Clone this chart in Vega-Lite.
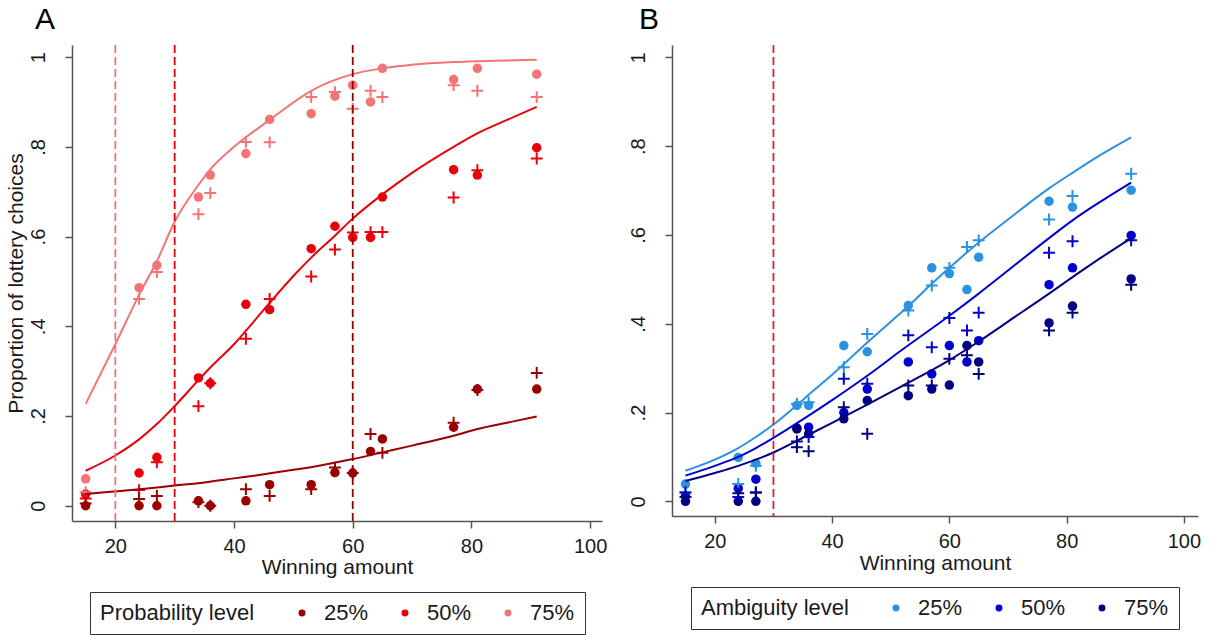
{
"$schema": "https://vega.github.io/schema/vega-lite/v6.json",
"background": "white",
"padding": {"left": 5, "top": 5, "right": 5, "bottom": 0},
"spacing": 21,
"config": {
  "font": "Liberation Sans",
  "view": {"stroke": null},
  "axis": {"grid": false, "domainColor": "#555555", "domainWidth": 1.5, "tickColor": "#555555", "tickWidth": 1.5, "tickSize": 7, "labelColor": "#1a1a1a", "labelFont": "Liberation Sans", "labelFontSize": 20, "titleFont": "Liberation Sans", "titleFontSize": 21, "titleFontWeight": "normal", "titleColor": "#1a1a1a"},
  "legend": {"labelFont": "Liberation Sans", "titleFont": "Liberation Sans", "labelFontSize": 22, "titleFontSize": 22, "titleFontWeight": "normal", "labelColor": "#1a1a1a", "titleColor": "#1a1a1a"},
  "title": {"font": "Liberation Sans", "fontSize": 30, "fontWeight": "normal", "color": "#000000"}
},
"datasets": {
  "A_rules": [{"x": 20, "level": "75%"}, {"x": 30, "level": "50%"}, {"x": 60, "level": "25%"}],
  "B_rules": [{"x": 30}],
  "A_lines": [
    {"level": "75%", "x": 15, "y": 0.227}, {"level": "75%", "x": 20, "y": 0.36}, {"level": "75%", "x": 24, "y": 0.47}, {"level": "75%", "x": 27, "y": 0.545}, {"level": "75%", "x": 30, "y": 0.633}, {"level": "75%", "x": 34, "y": 0.715}, {"level": "75%", "x": 36, "y": 0.75}, {"level": "75%", "x": 40, "y": 0.8}, {"level": "75%", "x": 46, "y": 0.86}, {"level": "75%", "x": 53, "y": 0.925}, {"level": "75%", "x": 60, "y": 0.962}, {"level": "75%", "x": 65, "y": 0.975}, {"level": "75%", "x": 70, "y": 0.983}, {"level": "75%", "x": 77, "y": 0.989}, {"level": "75%", "x": 84, "y": 0.992}, {"level": "75%", "x": 91, "y": 0.994},
    {"level": "50%", "x": 15, "y": 0.078}, {"level": "50%", "x": 20, "y": 0.112}, {"level": "50%", "x": 24, "y": 0.148}, {"level": "50%", "x": 27, "y": 0.182}, {"level": "50%", "x": 30, "y": 0.222}, {"level": "50%", "x": 34, "y": 0.28}, {"level": "50%", "x": 36, "y": 0.308}, {"level": "50%", "x": 40, "y": 0.36}, {"level": "50%", "x": 42, "y": 0.39}, {"level": "50%", "x": 46, "y": 0.452}, {"level": "50%", "x": 50, "y": 0.512}, {"level": "50%", "x": 53, "y": 0.553}, {"level": "50%", "x": 57, "y": 0.602}, {"level": "50%", "x": 60, "y": 0.64}, {"level": "50%", "x": 65, "y": 0.694}, {"level": "50%", "x": 70, "y": 0.742}, {"level": "50%", "x": 77, "y": 0.8}, {"level": "50%", "x": 81, "y": 0.83}, {"level": "50%", "x": 86, "y": 0.86}, {"level": "50%", "x": 91, "y": 0.889},
    {"level": "25%", "x": 15, "y": 0.026}, {"level": "25%", "x": 20, "y": 0.032}, {"level": "25%", "x": 25, "y": 0.038}, {"level": "25%", "x": 30, "y": 0.045}, {"level": "25%", "x": 35, "y": 0.052}, {"level": "25%", "x": 40, "y": 0.061}, {"level": "25%", "x": 45, "y": 0.07}, {"level": "25%", "x": 50, "y": 0.08}, {"level": "25%", "x": 55, "y": 0.091}, {"level": "25%", "x": 60, "y": 0.104}, {"level": "25%", "x": 65, "y": 0.119}, {"level": "25%", "x": 70, "y": 0.134}, {"level": "25%", "x": 77, "y": 0.156}, {"level": "25%", "x": 81, "y": 0.171}, {"level": "25%", "x": 86, "y": 0.185}, {"level": "25%", "x": 91, "y": 0.199}
  ],
  "A_pts": [
    {"level": "75%", "x": 15, "y": 0.06, "kind": "o"}, {"level": "75%", "x": 15, "y": 0.03, "kind": "p"},
    {"level": "75%", "x": 24, "y": 0.486, "kind": "o"}, {"level": "75%", "x": 24, "y": 0.461, "kind": "p"},
    {"level": "75%", "x": 27, "y": 0.536, "kind": "o"}, {"level": "75%", "x": 27, "y": 0.521, "kind": "p"},
    {"level": "75%", "x": 34, "y": 0.688, "kind": "o"}, {"level": "75%", "x": 34, "y": 0.65, "kind": "p"},
    {"level": "75%", "x": 36, "y": 0.737, "kind": "o"}, {"level": "75%", "x": 36, "y": 0.697, "kind": "p"},
    {"level": "75%", "x": 42, "y": 0.785, "kind": "o"}, {"level": "75%", "x": 42, "y": 0.811, "kind": "p"},
    {"level": "75%", "x": 46, "y": 0.861, "kind": "o"}, {"level": "75%", "x": 46, "y": 0.81, "kind": "p"},
    {"level": "75%", "x": 53, "y": 0.874, "kind": "o"}, {"level": "75%", "x": 53, "y": 0.911, "kind": "p"},
    {"level": "75%", "x": 57, "y": 0.913, "kind": "o"}, {"level": "75%", "x": 57, "y": 0.922, "kind": "p"},
    {"level": "75%", "x": 60, "y": 0.9375, "kind": "o"}, {"level": "75%", "x": 60, "y": 0.885, "kind": "p"},
    {"level": "75%", "x": 63, "y": 0.9, "kind": "o"}, {"level": "75%", "x": 63, "y": 0.925, "kind": "p"},
    {"level": "75%", "x": 65, "y": 0.975, "kind": "o"}, {"level": "75%", "x": 65, "y": 0.911, "kind": "p"},
    {"level": "75%", "x": 77, "y": 0.95, "kind": "o"}, {"level": "75%", "x": 77, "y": 0.9375, "kind": "p"},
    {"level": "75%", "x": 81, "y": 0.975, "kind": "o"}, {"level": "75%", "x": 81, "y": 0.925, "kind": "p"},
    {"level": "75%", "x": 91, "y": 0.962, "kind": "o"}, {"level": "75%", "x": 91, "y": 0.911, "kind": "p"},
    {"level": "50%", "x": 15, "y": 0.026, "kind": "o"}, {"level": "50%", "x": 15, "y": 0.016, "kind": "p"},
    {"level": "50%", "x": 24, "y": 0.073, "kind": "o"}, {"level": "50%", "x": 24, "y": 0.035, "kind": "p"},
    {"level": "50%", "x": 27, "y": 0.108, "kind": "o"}, {"level": "50%", "x": 27, "y": 0.097, "kind": "p"},
    {"level": "50%", "x": 34, "y": 0.285, "kind": "o"}, {"level": "50%", "x": 34, "y": 0.222, "kind": "p"},
    {"level": "50%", "x": 36, "y": 0.273, "kind": "o"}, {"level": "50%", "x": 36, "y": 0.273, "kind": "p"},
    {"level": "50%", "x": 42, "y": 0.449, "kind": "o"}, {"level": "50%", "x": 42, "y": 0.372, "kind": "p"},
    {"level": "50%", "x": 46, "y": 0.437, "kind": "o"}, {"level": "50%", "x": 46, "y": 0.461, "kind": "p"},
    {"level": "50%", "x": 53, "y": 0.573, "kind": "o"}, {"level": "50%", "x": 53, "y": 0.511, "kind": "p"},
    {"level": "50%", "x": 57, "y": 0.623, "kind": "o"}, {"level": "50%", "x": 57, "y": 0.571, "kind": "p"},
    {"level": "50%", "x": 60, "y": 0.598, "kind": "o"}, {"level": "50%", "x": 60, "y": 0.609, "kind": "p"},
    {"level": "50%", "x": 63, "y": 0.598, "kind": "o"}, {"level": "50%", "x": 63, "y": 0.61, "kind": "p"},
    {"level": "50%", "x": 65, "y": 0.688, "kind": "o"}, {"level": "50%", "x": 65, "y": 0.61, "kind": "p"},
    {"level": "50%", "x": 77, "y": 0.749, "kind": "o"}, {"level": "50%", "x": 77, "y": 0.687, "kind": "p"},
    {"level": "50%", "x": 81, "y": 0.737, "kind": "o"}, {"level": "50%", "x": 81, "y": 0.748, "kind": "p"},
    {"level": "50%", "x": 91, "y": 0.798, "kind": "o"}, {"level": "50%", "x": 91, "y": 0.774, "kind": "p"},
    {"level": "25%", "x": 15, "y": 0.0, "kind": "o"}, {"level": "25%", "x": 15, "y": 0.005, "kind": "p"},
    {"level": "25%", "x": 24, "y": 0.0, "kind": "o"}, {"level": "25%", "x": 24, "y": 0.015, "kind": "p"},
    {"level": "25%", "x": 27, "y": 0.0, "kind": "o"}, {"level": "25%", "x": 27, "y": 0.022, "kind": "p"},
    {"level": "25%", "x": 34, "y": 0.011, "kind": "o"}, {"level": "25%", "x": 34, "y": 0.008, "kind": "p"},
    {"level": "25%", "x": 36, "y": 0.0, "kind": "o"}, {"level": "25%", "x": 36, "y": 0.0, "kind": "p"},
    {"level": "25%", "x": 42, "y": 0.011, "kind": "o"}, {"level": "25%", "x": 42, "y": 0.037, "kind": "p"},
    {"level": "25%", "x": 46, "y": 0.047, "kind": "o"}, {"level": "25%", "x": 46, "y": 0.022, "kind": "p"},
    {"level": "25%", "x": 53, "y": 0.047, "kind": "o"}, {"level": "25%", "x": 53, "y": 0.037, "kind": "p"},
    {"level": "25%", "x": 57, "y": 0.074, "kind": "o"}, {"level": "25%", "x": 57, "y": 0.085, "kind": "p"},
    {"level": "25%", "x": 60, "y": 0.073, "kind": "o"}, {"level": "25%", "x": 60, "y": 0.073, "kind": "p"},
    {"level": "25%", "x": 63, "y": 0.121, "kind": "o"}, {"level": "25%", "x": 63, "y": 0.16, "kind": "p"},
    {"level": "25%", "x": 65, "y": 0.149, "kind": "o"}, {"level": "25%", "x": 65, "y": 0.118, "kind": "p"},
    {"level": "25%", "x": 77, "y": 0.175, "kind": "o"}, {"level": "25%", "x": 77, "y": 0.185, "kind": "p"},
    {"level": "25%", "x": 81, "y": 0.26, "kind": "o"}, {"level": "25%", "x": 81, "y": 0.258, "kind": "p"},
    {"level": "25%", "x": 91, "y": 0.26, "kind": "o"}, {"level": "25%", "x": 91, "y": 0.296, "kind": "p"}
  ],
  "B_lines": [
    {"level": "25%", "x": 15, "y": 0.069}, {"level": "25%", "x": 20, "y": 0.094}, {"level": "25%", "x": 24, "y": 0.12}, {"level": "25%", "x": 27, "y": 0.145}, {"level": "25%", "x": 30, "y": 0.173}, {"level": "25%", "x": 34, "y": 0.217}, {"level": "25%", "x": 36, "y": 0.24}, {"level": "25%", "x": 40, "y": 0.285}, {"level": "25%", "x": 46, "y": 0.358}, {"level": "25%", "x": 53, "y": 0.44}, {"level": "25%", "x": 57, "y": 0.49}, {"level": "25%", "x": 60, "y": 0.526}, {"level": "25%", "x": 65, "y": 0.583}, {"level": "25%", "x": 70, "y": 0.635}, {"level": "25%", "x": 77, "y": 0.705}, {"level": "25%", "x": 81, "y": 0.74}, {"level": "25%", "x": 86, "y": 0.782}, {"level": "25%", "x": 91, "y": 0.82},
    {"level": "50%", "x": 15, "y": 0.058}, {"level": "50%", "x": 20, "y": 0.08}, {"level": "50%", "x": 24, "y": 0.1}, {"level": "50%", "x": 27, "y": 0.12}, {"level": "50%", "x": 30, "y": 0.143}, {"level": "50%", "x": 36, "y": 0.193}, {"level": "50%", "x": 40, "y": 0.228}, {"level": "50%", "x": 46, "y": 0.283}, {"level": "50%", "x": 52, "y": 0.342}, {"level": "50%", "x": 60, "y": 0.418}, {"level": "50%", "x": 65, "y": 0.468}, {"level": "50%", "x": 70, "y": 0.52}, {"level": "50%", "x": 77, "y": 0.593}, {"level": "50%", "x": 81, "y": 0.633}, {"level": "50%", "x": 86, "y": 0.677}, {"level": "50%", "x": 91, "y": 0.718},
    {"level": "75%", "x": 15, "y": 0.046}, {"level": "75%", "x": 20, "y": 0.064}, {"level": "75%", "x": 24, "y": 0.08}, {"level": "75%", "x": 30, "y": 0.11}, {"level": "75%", "x": 36, "y": 0.15}, {"level": "75%", "x": 40, "y": 0.177}, {"level": "75%", "x": 46, "y": 0.218}, {"level": "75%", "x": 52, "y": 0.26}, {"level": "75%", "x": 60, "y": 0.318}, {"level": "75%", "x": 65, "y": 0.36}, {"level": "75%", "x": 70, "y": 0.405}, {"level": "75%", "x": 77, "y": 0.468}, {"level": "75%", "x": 81, "y": 0.505}, {"level": "75%", "x": 86, "y": 0.55}, {"level": "75%", "x": 91, "y": 0.593}
  ],
  "B_pts": [
    {"level": "25%", "x": 15, "y": 0.039, "kind": "o"}, {"level": "25%", "x": 15, "y": 0.02, "kind": "p"},
    {"level": "25%", "x": 24, "y": 0.099, "kind": "o"}, {"level": "25%", "x": 24, "y": 0.039, "kind": "p"},
    {"level": "25%", "x": 27, "y": 0.086, "kind": "o"}, {"level": "25%", "x": 27, "y": 0.08, "kind": "p"},
    {"level": "25%", "x": 34, "y": 0.216, "kind": "o"}, {"level": "25%", "x": 34, "y": 0.22, "kind": "p"},
    {"level": "25%", "x": 36, "y": 0.216, "kind": "o"}, {"level": "25%", "x": 36, "y": 0.223, "kind": "p"},
    {"level": "25%", "x": 42, "y": 0.351, "kind": "o"}, {"level": "25%", "x": 42, "y": 0.302, "kind": "p"},
    {"level": "25%", "x": 46, "y": 0.337, "kind": "o"}, {"level": "25%", "x": 46, "y": 0.377, "kind": "p"},
    {"level": "25%", "x": 53, "y": 0.441, "kind": "o"}, {"level": "25%", "x": 53, "y": 0.43, "kind": "p"},
    {"level": "25%", "x": 57, "y": 0.526, "kind": "o"}, {"level": "25%", "x": 57, "y": 0.486, "kind": "p"},
    {"level": "25%", "x": 60, "y": 0.513, "kind": "o"}, {"level": "25%", "x": 60, "y": 0.526, "kind": "p"},
    {"level": "25%", "x": 63, "y": 0.477, "kind": "o"}, {"level": "25%", "x": 63, "y": 0.573, "kind": "p"},
    {"level": "25%", "x": 65, "y": 0.55, "kind": "o"}, {"level": "25%", "x": 65, "y": 0.588, "kind": "p"},
    {"level": "25%", "x": 77, "y": 0.676, "kind": "o"}, {"level": "25%", "x": 77, "y": 0.635, "kind": "p"},
    {"level": "25%", "x": 81, "y": 0.663, "kind": "o"}, {"level": "25%", "x": 81, "y": 0.688, "kind": "p"},
    {"level": "25%", "x": 91, "y": 0.701, "kind": "o"}, {"level": "25%", "x": 91, "y": 0.738, "kind": "p"},
    {"level": "50%", "x": 15, "y": 0.012, "kind": "o"}, {"level": "50%", "x": 15, "y": 0.02, "kind": "p"},
    {"level": "50%", "x": 24, "y": 0.029, "kind": "o"}, {"level": "50%", "x": 24, "y": 0.01, "kind": "p"},
    {"level": "50%", "x": 27, "y": 0.05, "kind": "o"}, {"level": "50%", "x": 27, "y": 0.02, "kind": "p"},
    {"level": "50%", "x": 34, "y": 0.165, "kind": "o"}, {"level": "50%", "x": 34, "y": 0.135, "kind": "p"},
    {"level": "50%", "x": 36, "y": 0.167, "kind": "o"}, {"level": "50%", "x": 36, "y": 0.145, "kind": "p"},
    {"level": "50%", "x": 42, "y": 0.2, "kind": "o"}, {"level": "50%", "x": 42, "y": 0.276, "kind": "p"},
    {"level": "50%", "x": 46, "y": 0.253, "kind": "o"}, {"level": "50%", "x": 46, "y": 0.265, "kind": "p"},
    {"level": "50%", "x": 53, "y": 0.314, "kind": "o"}, {"level": "50%", "x": 53, "y": 0.374, "kind": "p"},
    {"level": "50%", "x": 57, "y": 0.287, "kind": "o"}, {"level": "50%", "x": 57, "y": 0.347, "kind": "p"},
    {"level": "50%", "x": 60, "y": 0.351, "kind": "o"}, {"level": "50%", "x": 60, "y": 0.413, "kind": "p"},
    {"level": "50%", "x": 63, "y": 0.314, "kind": "o"}, {"level": "50%", "x": 63, "y": 0.385, "kind": "p"},
    {"level": "50%", "x": 65, "y": 0.362, "kind": "o"}, {"level": "50%", "x": 65, "y": 0.425, "kind": "p"},
    {"level": "50%", "x": 77, "y": 0.488, "kind": "o"}, {"level": "50%", "x": 77, "y": 0.56, "kind": "p"},
    {"level": "50%", "x": 81, "y": 0.526, "kind": "o"}, {"level": "50%", "x": 81, "y": 0.586, "kind": "p"},
    {"level": "50%", "x": 91, "y": 0.599, "kind": "o"}, {"level": "50%", "x": 91, "y": 0.588, "kind": "p"},
    {"level": "75%", "x": 15, "y": 0.0, "kind": "o"}, {"level": "75%", "x": 15, "y": 0.01, "kind": "p"},
    {"level": "75%", "x": 24, "y": 0.0, "kind": "o"}, {"level": "75%", "x": 24, "y": 0.018, "kind": "p"},
    {"level": "75%", "x": 27, "y": 0.0, "kind": "o"}, {"level": "75%", "x": 27, "y": 0.02, "kind": "p"},
    {"level": "75%", "x": 34, "y": 0.163, "kind": "o"}, {"level": "75%", "x": 34, "y": 0.122, "kind": "p"},
    {"level": "75%", "x": 36, "y": 0.152, "kind": "o"}, {"level": "75%", "x": 36, "y": 0.113, "kind": "p"},
    {"level": "75%", "x": 42, "y": 0.186, "kind": "o"}, {"level": "75%", "x": 42, "y": 0.212, "kind": "p"},
    {"level": "75%", "x": 46, "y": 0.227, "kind": "o"}, {"level": "75%", "x": 46, "y": 0.152, "kind": "p"},
    {"level": "75%", "x": 53, "y": 0.238, "kind": "o"}, {"level": "75%", "x": 53, "y": 0.261, "kind": "p"},
    {"level": "75%", "x": 57, "y": 0.253, "kind": "o"}, {"level": "75%", "x": 57, "y": 0.261, "kind": "p"},
    {"level": "75%", "x": 60, "y": 0.262, "kind": "o"}, {"level": "75%", "x": 60, "y": 0.321, "kind": "p"},
    {"level": "75%", "x": 63, "y": 0.351, "kind": "o"}, {"level": "75%", "x": 63, "y": 0.329, "kind": "p"},
    {"level": "75%", "x": 65, "y": 0.314, "kind": "o"}, {"level": "75%", "x": 65, "y": 0.287, "kind": "p"},
    {"level": "75%", "x": 77, "y": 0.402, "kind": "o"}, {"level": "75%", "x": 77, "y": 0.385, "kind": "p"},
    {"level": "75%", "x": 81, "y": 0.44, "kind": "o"}, {"level": "75%", "x": 81, "y": 0.425, "kind": "p"},
    {"level": "75%", "x": 91, "y": 0.501, "kind": "o"}, {"level": "75%", "x": 91, "y": 0.488, "kind": "p"}
  ]
},
"resolve": {"scale": {"color": "independent"}, "legend": {"color": "independent"}},
"hconcat": [
  {
    "title": {"text": "A", "anchor": "start", "frame": "group", "dx": -37, "offset": 9},
    "width": 530, "height": 476,
    "layer": [
      {
        "data": {"name": "A_pts"},
        "transform": [{"filter": "datum.kind == 'o'"}],
        "mark": {"type": "point", "shape": "circle", "filled": true, "size": 90, "opacity": 1},
        "encoding": {
          "x": {"field": "x", "type": "quantitative", "scale": {"domain": [12.7, 102], "nice": false, "zero": false}, "axis": {"values": [20, 40, 60, 80, 100], "title": "Winning amount", "labelPadding": 8, "titlePadding": 0}},
          "y": {"field": "y", "type": "quantitative", "scale": {"domain": [-0.034, 1.027], "nice": false, "zero": false}, "axis": {"values": [0, 0.2, 0.4, 0.6, 0.8, 1], "labelExpr": "replace(format(datum.value, '.1~f'), '0.', '.')", "labelAngle": -90, "labelAlign": "center", "labelBaseline": "bottom", "labelPadding": 17, "title": "Proportion of lottery choices", "titlePadding": 2}},
          "color": {"field": "level", "type": "nominal", "scale": {"domain": ["25%", "50%", "75%"], "range": ["#990000", "#E8000B", "#F27575"]},
            "legend": {"title": "Probability level", "orient": "none", "legendX": 18, "legendY": 547, "direction": "horizontal", "titleOrient": "left", "symbolType": "circle", "symbolSize": 30, "strokeColor": "#333333", "padding": 10, "columnPadding": 25, "labelOffset": 11, "titlePadding": 36}}
        }
      },
      {
        "data": {"name": "A_pts"},
        "transform": [{"filter": "datum.kind == 'p'"}],
        "mark": {"type": "point", "shape": "M-1,0L1,0M0,-1L0,1", "filled": false, "size": 140, "strokeWidth": 2, "opacity": 1},
        "encoding": {
          "x": {"field": "x", "type": "quantitative"},
          "y": {"field": "y", "type": "quantitative"},
          "color": {"field": "level", "type": "nominal"}
        }
      },
      {
        "data": {"name": "A_lines"},
        "mark": {"type": "line", "strokeWidth": 2, "interpolate": "monotone"},
        "encoding": {
          "x": {"field": "x", "type": "quantitative"},
          "y": {"field": "y", "type": "quantitative"},
          "color": {"field": "level", "type": "nominal"}
        }
      },
      {
        "data": {"name": "A_rules"},
        "mark": {"type": "rule", "strokeDash": [8, 4], "strokeWidth": 1.8},
        "encoding": {
          "x": {"field": "x", "type": "quantitative"},
          "color": {"field": "level", "type": "nominal"}
        }
      }
    ]
  },
  {
    "title": {"text": "B", "anchor": "start", "frame": "group", "dx": -33, "offset": 9},
    "width": 526, "height": 471,
    "layer": [
      {
        "data": {"name": "B_pts"},
        "transform": [{"filter": "datum.kind == 'o'"}],
        "mark": {"type": "point", "shape": "circle", "filled": true, "size": 90, "opacity": 1},
        "encoding": {
          "x": {"field": "x", "type": "quantitative", "scale": {"domain": [12.7, 102.4], "nice": false, "zero": false}, "axis": {"values": [20, 40, 60, 80, 100], "title": "Winning amount", "labelPadding": 8, "titlePadding": 1}},
          "y": {"field": "y", "type": "quantitative", "scale": {"domain": [-0.033, 1.028], "nice": false, "zero": false}, "axis": {"values": [0, 0.2, 0.4, 0.6, 0.8, 1], "labelExpr": "replace(format(datum.value, '.1~f'), '0.', '.')", "labelAngle": -90, "labelAlign": "center", "labelBaseline": "bottom", "labelPadding": 17, "title": null}},
          "color": {"field": "level", "type": "nominal", "scale": {"domain": ["25%", "50%", "75%"], "range": ["#2A92E0", "#0000D0", "#000080"]},
            "legend": {"title": "Ambiguity level", "orient": "none", "legendX": 19, "legendY": 542, "direction": "horizontal", "titleOrient": "left", "symbolType": "circle", "symbolSize": 30, "strokeColor": "#333333", "padding": 10, "columnPadding": 25, "labelOffset": 11, "titlePadding": 36}}
        }
      },
      {
        "data": {"name": "B_pts"},
        "transform": [{"filter": "datum.kind == 'p'"}],
        "mark": {"type": "point", "shape": "M-1,0L1,0M0,-1L0,1", "filled": false, "size": 140, "strokeWidth": 2, "opacity": 1},
        "encoding": {
          "x": {"field": "x", "type": "quantitative"},
          "y": {"field": "y", "type": "quantitative"},
          "color": {"field": "level", "type": "nominal"}
        }
      },
      {
        "data": {"name": "B_lines"},
        "mark": {"type": "line", "strokeWidth": 2, "interpolate": "monotone"},
        "encoding": {
          "x": {"field": "x", "type": "quantitative"},
          "y": {"field": "y", "type": "quantitative"},
          "color": {"field": "level", "type": "nominal"}
        }
      },
      {
        "data": {"name": "B_rules"},
        "mark": {"type": "rule", "strokeDash": [8, 4], "strokeWidth": 1.8, "color": "#E02020"},
        "encoding": {
          "x": {"field": "x", "type": "quantitative"}
        }
      }
    ]
  }
]
}
